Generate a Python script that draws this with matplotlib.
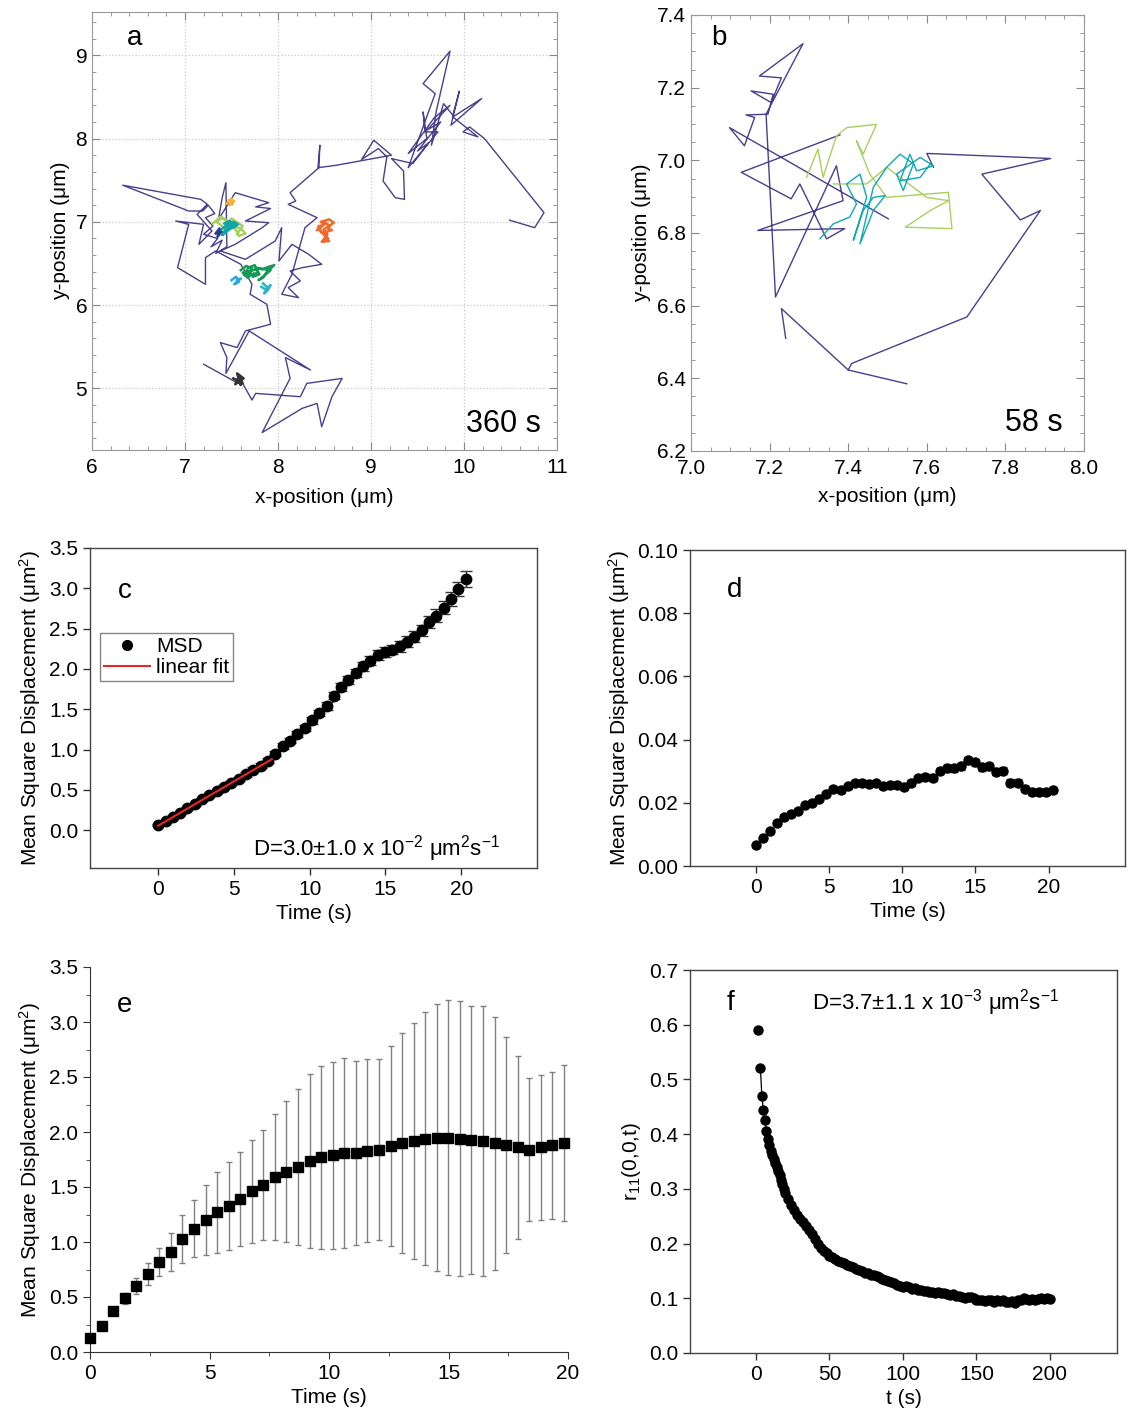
import numpy as np
import matplotlib
matplotlib.use("Agg")
import matplotlib.pyplot as plt
from matplotlib.ticker import MultipleLocator
from matplotlib.lines import Line2D

plt.rcParams['font.family'] = ['Liberation Sans', 'DejaVu Sans']
plt.rcParams['mathtext.fontset'] = 'custom'
plt.rcParams['mathtext.rm'] = 'Liberation Sans'
plt.rcParams['mathtext.it'] = 'Liberation Sans:italic'
plt.rcParams['mathtext.default'] = 'regular'

#%% data: panel a, full track (um) and the short confined tracks
a_track = [(7.20, 5.29), (7.54, 5.08), (7.60, 5.10), (7.72, 4.86), (7.76, 4.94), (8.24, 4.90),
           (8.31, 5.06), (8.69, 5.12), (8.58, 4.90), (8.47, 4.54), (8.42, 4.82), (8.26, 4.76),
           (7.83, 4.47), (8.13, 5.12), (8.08, 5.37), (8.35, 5.22), (7.69, 5.69), (7.44, 5.18),
           (7.45, 5.37), (7.38, 5.55), (7.56, 5.49), (7.65, 5.69), (7.92, 5.77), (7.88, 6.01),
           (7.70, 6.13), (7.72, 6.25), (7.60, 6.49), (7.33, 6.65), (7.22, 6.57), (7.22, 6.25),
           (6.92, 6.45), (7.04, 6.97), (6.90, 7.01), (7.20, 6.97), (7.15, 6.73), (7.29, 6.89),
           (7.13, 7.09), (7.24, 7.21), (7.17, 7.27), (6.33, 7.44), (7.04, 7.13), (7.19, 7.13),
           (7.25, 7.20), (7.32, 7.10), (7.22, 7.05), (7.30, 6.95), (7.20, 6.85), (7.35, 6.80),
           (7.28, 6.70), (7.40, 6.78), (7.33, 6.62), (7.45, 6.70),
           (7.44, 7.47), (7.40, 7.29), (7.36, 7.03), (7.54, 7.35), (7.90, 7.23), (7.76, 7.18),
           (7.92, 7.16), (7.65, 7.01), (7.90, 6.99), (7.83, 6.93), (7.54, 6.73), (7.38, 6.65),
           (7.65, 6.55), (7.97, 6.77), (8.04, 6.93), (8.01, 6.53), (8.15, 6.73), (8.33, 6.61),
           (8.47, 6.49), (8.26, 6.45), (8.13, 6.41), (8.24, 6.29), (8.11, 6.21), (8.22, 6.09),
           (8.04, 6.13), (8.15, 6.37), (8.29, 6.93), (8.42, 7.05), (8.11, 7.21), (8.19, 7.25),
           (8.13, 7.35), (8.44, 7.65), (8.45, 7.92), (8.43, 7.65), (8.63, 7.68), (9.22, 7.80),
           (9.03, 7.98), (8.90, 7.75), (9.08, 7.88), (9.17, 7.78), (9.13, 7.49), (9.26, 7.29),
           (9.36, 7.27), (9.35, 7.61), (9.22, 7.76), (9.45, 7.70), (9.62, 7.95), (9.50, 7.85),
           (9.75, 8.20), (9.60, 8.10), (9.85, 8.40), (9.68, 8.25), (9.40, 7.82),
           (9.60, 8.00), (9.56, 8.32), (9.58, 8.08),
           (9.72, 8.08), (9.40, 7.65), (9.69, 8.54), (9.56, 8.66), (9.85, 9.05), (9.70, 8.32),
           (9.65, 7.92), (9.78, 8.42), (9.88, 8.28), (9.95, 8.57), (9.86, 8.16), (10.19, 8.48),
           (9.88, 8.26), (10.15, 8.02), (9.99, 8.08), (10.06, 8.14), (10.22, 8.00), (10.86, 7.11),
           (10.76, 6.93), (10.49, 7.02)]
a_orange = [(8.42, 6.90), (8.50, 6.97), (8.46, 7.00), (8.55, 7.03), (8.60, 6.99), (8.52, 6.93),
            (8.58, 6.90), (8.48, 6.87), (8.43, 6.93), (8.51, 6.99), (8.56, 6.95), (8.49, 6.91),
            (8.53, 6.85), (8.50, 6.80), (8.55, 6.77), (8.47, 6.76), (8.52, 6.82), (8.49, 6.78),
            (8.54, 6.80), (8.46, 6.88), (8.44, 6.95)]
a_yellow = [(7.45, 7.22), (7.50, 7.28), (7.48, 7.20), (7.53, 7.25), (7.47, 7.26), (7.51, 7.21)]
a_lime = [(7.30, 6.98), (7.38, 7.06), (7.45, 7.02), (7.52, 6.95), (7.60, 6.92), (7.65, 6.86),
          (7.58, 6.83), (7.55, 6.90), (7.48, 6.97), (7.40, 7.05), (7.34, 7.00), (7.42, 6.93),
          (7.50, 7.04), (7.62, 6.95), (7.56, 6.85)]
a_teal = [(7.38, 6.90), (7.45, 6.96), (7.52, 7.00), (7.57, 6.97), (7.50, 6.93), (7.44, 6.88),
          (7.40, 6.84), (7.47, 6.91), (7.55, 6.95), (7.42, 6.98), (7.48, 7.01), (7.53, 6.96),
          (7.46, 6.94), (7.41, 6.87)]
a_navy = [(7.33, 6.86), (7.37, 6.92), (7.35, 6.82), (7.39, 6.88)]
a_green = [(7.60, 6.42), (7.66, 6.47), (7.72, 6.44), (7.70, 6.38), (7.64, 6.36), (7.68, 6.45),
           (7.75, 6.48), (7.78, 6.40), (7.73, 6.34), (7.80, 6.37), (7.76, 6.45), (7.83, 6.43),
           (7.90, 6.46), (7.96, 6.48), (7.88, 6.40), (7.84, 6.33), (7.79, 6.30), (7.86, 6.36),
           (7.92, 6.42), (7.80, 6.44), (7.70, 6.41), (7.62, 6.39), (7.67, 6.33), (7.74, 6.38)]
a_sky = [(7.50, 6.30), (7.55, 6.34), (7.58, 6.28), (7.53, 6.25), (7.60, 6.32), (7.56, 6.29)]
a_cyan = [(7.82, 6.22), (7.88, 6.18), (7.92, 6.24), (7.85, 6.14), (7.90, 6.20), (7.84, 6.26)]
a_black = [(7.52, 5.12), (7.62, 5.06), (7.58, 5.14), (7.54, 5.05), (7.63, 5.12), (7.56, 5.18),
           (7.60, 5.04), (7.57, 5.10)]

#%% data: panel b, 58 s track
b_purple1 = [(7.549, 6.385), (7.400, 6.423), (7.409, 6.441), (7.702, 6.569), (7.889, 6.862),
             (7.838, 6.836), (7.740, 6.962), (7.915, 7.005), (7.600, 7.019), (7.617, 6.981)]
b_purple2 = [(7.241, 6.510), (7.230, 6.592), (7.400, 6.423)]
b_purple3 = [(7.502, 6.839), (7.098, 7.090), (7.136, 7.040), (7.162, 7.118), (7.140, 7.125),
             (7.196, 7.127), (7.209, 7.182), (7.153, 7.191), (7.204, 7.159), (7.230, 7.227),
             (7.174, 7.232), (7.285, 7.321), (7.191, 7.127), (7.215, 6.624), (7.370, 6.985),
             (7.387, 6.889), (7.170, 6.807), (7.391, 6.812), (7.345, 6.784), (7.277, 6.935),
             (7.255, 6.894), (7.128, 6.967), (7.379, 7.070)]
b_teal = [(7.328, 6.784), (7.362, 6.825), (7.404, 6.844), (7.421, 6.880), (7.396, 6.935),
          (7.430, 6.962), (7.447, 6.898), (7.413, 6.780), (7.438, 6.862), (7.464, 6.898),
          (7.494, 6.903), (7.464, 6.862), (7.430, 6.770), (7.464, 6.926), (7.498, 6.981),
          (7.532, 7.017), (7.566, 6.990), (7.540, 6.917), (7.523, 6.962), (7.583, 7.008),
          (7.617, 6.985), (7.574, 6.971), (7.557, 7.017), (7.532, 6.944), (7.583, 6.953),
          (7.609, 6.990)]
b_lime = [(7.294, 6.953), (7.323, 7.031), (7.336, 6.953), (7.370, 7.067), (7.396, 7.090),
          (7.472, 7.099), (7.438, 7.017), (7.421, 7.054), (7.455, 6.962), (7.498, 6.898),
          (7.655, 6.912), (7.664, 6.812), (7.545, 6.816), (7.609, 6.862), (7.655, 6.889),
          (7.600, 6.898), (7.498, 6.981), (7.447, 6.935), (7.362, 6.935)]

#%% data: MSD curves
lag_step = 0.483  # s
c_msd = [0.06, 0.11, 0.16, 0.21, 0.27, 0.32, 0.38, 0.43, 0.48, 0.54,
         0.59, 0.64, 0.69, 0.75, 0.80, 0.86, 0.95, 1.04, 1.11, 1.19,
         1.27, 1.36, 1.45, 1.54, 1.67, 1.77, 1.86, 1.95, 2.03, 2.10,
         2.17, 2.21, 2.24, 2.28, 2.34, 2.40, 2.48, 2.58, 2.66, 2.76,
         2.87, 2.99, 3.12]
c_err = [0.01, 0.01, 0.01, 0.015, 0.015, 0.015, 0.02, 0.02, 0.02, 0.02,
         0.025, 0.025, 0.025, 0.03, 0.03, 0.03, 0.03, 0.035, 0.035, 0.035,
         0.04, 0.04, 0.04, 0.045, 0.045, 0.05, 0.05, 0.05, 0.055, 0.055,
         0.06, 0.06, 0.06, 0.065, 0.065, 0.07, 0.07, 0.075, 0.08, 0.08,
         0.085, 0.09, 0.1]
fit_slope = 0.11
fit_icpt = 0.055
fit_tmax = 7.5

d_msd = [0.0067, 0.0088, 0.011, 0.0136, 0.0155, 0.0166, 0.0173, 0.0194, 0.020, 0.0213,
         0.0227, 0.0245, 0.024, 0.0253, 0.0262, 0.0264, 0.026, 0.0262, 0.0253, 0.0255,
         0.0257, 0.0251, 0.0262, 0.0277, 0.0281, 0.028, 0.0301, 0.0309, 0.0309, 0.0315,
         0.0334, 0.0328, 0.0312, 0.0315, 0.0298, 0.0302, 0.0264, 0.0264, 0.0243, 0.0235,
         0.0235, 0.0235, 0.024]
d_err = [0.0004, 0.0004, 0.0005, 0.0005, 0.0005, 0.0006, 0.0006, 0.0006, 0.0006, 0.0007,
         0.0007, 0.0007, 0.0008, 0.0008, 0.0008, 0.0008, 0.0008, 0.0008, 0.0008, 0.0008,
         0.0009, 0.0009, 0.0009, 0.0009, 0.0009, 0.001, 0.001, 0.001, 0.001, 0.0011,
         0.0012, 0.0012, 0.0011, 0.0011, 0.0011, 0.001, 0.001, 0.001, 0.001, 0.0009,
         0.0009, 0.0009, 0.001]

e_step = 0.4836
e_msd = [0.13, 0.24, 0.37, 0.49, 0.60, 0.71, 0.82, 0.91, 1.03, 1.12,
         1.20, 1.27, 1.33, 1.39, 1.46, 1.52, 1.59, 1.64, 1.68, 1.74,
         1.77, 1.79, 1.81, 1.81, 1.83, 1.84, 1.87, 1.90, 1.92, 1.94,
         1.95, 1.95, 1.94, 1.93, 1.92, 1.90, 1.88, 1.86, 1.84, 1.86,
         1.88, 1.90]
e_err = [0.02, 0.03, 0.03, 0.05, 0.07, 0.10, 0.13, 0.17, 0.22, 0.26,
         0.32, 0.37, 0.40, 0.43, 0.47, 0.50, 0.57, 0.64, 0.71, 0.79,
         0.83, 0.85, 0.86, 0.84, 0.83, 0.82, 0.91, 1.00, 1.07, 1.15,
         1.21, 1.25, 1.25, 1.22, 1.23, 1.15, 0.98, 0.83, 0.65, 0.66,
         0.67, 0.71]

#%% data: panel f, autocorrelation r11(0,0,t)
f_t_early = [1.6, 3, 4, 5, 6, 7, 8, 9, 10, 11, 12, 13, 14, 15, 16, 17, 18, 19, 20]
f_r_early = [0.59, 0.52, 0.47, 0.445, 0.425, 0.405, 0.392, 0.38, 0.37, 0.362,
             0.355, 0.347, 0.34, 0.333, 0.325, 0.317, 0.308, 0.300, 0.293]
f_r_late = [0.281, 0.270, 0.262, 0.252, 0.245, 0.240, 0.232, 0.224, 0.217, 0.209,
            0.200, 0.192, 0.186, 0.182, 0.178, 0.175, 0.172, 0.169, 0.166, 0.164,
            0.161, 0.159, 0.157, 0.154, 0.151, 0.150, 0.147, 0.146, 0.143, 0.142,
            0.141, 0.139, 0.136, 0.134, 0.132, 0.130, 0.128, 0.124, 0.123, 0.121,
            0.122, 0.120, 0.117, 0.118, 0.116, 0.115, 0.113, 0.114, 0.112, 0.111,
            0.110, 0.111, 0.109, 0.110, 0.108, 0.106, 0.107, 0.104, 0.105, 0.103,
            0.101, 0.103, 0.102, 0.100, 0.097, 0.096, 0.097, 0.095, 0.097, 0.096,
            0.094, 0.097, 0.095, 0.096, 0.094, 0.093, 0.095, 0.092, 0.096, 0.097,
            0.101, 0.098, 0.096, 0.098, 0.097, 0.099, 0.101, 0.098, 0.100, 0.098]
f_t_late = 22 + 2 * np.arange(len(f_r_late))

#%% figure
W, H = 1129, 1416
fig = plt.figure(figsize=(W / 100, H / 100), dpi=100)


def box(l, t, r, b):
    return [l / W, 1 - b / H, (r - l) / W, (b - t) / H]


FS = 15
purple = '#4a3f8c'


def xy(pts):
    p = np.array(pts)
    return p[:, 0], p[:, 1]


# a
ax = fig.add_axes(box(92, 12, 557, 450))
x, y = xy(a_track)
ax.plot(x, y, color=purple, lw=1.0)
for pts, col in [(a_orange, '#f26a2a'), (a_yellow, '#f5b335'), (a_lime, '#a8d060'),
                 (a_teal, '#10a5a8'), (a_navy, '#2b3c8f'), (a_green, '#139a55'),
                 (a_sky, '#2aa6e0'), (a_cyan, '#1fb8c8'), (a_black, '#333333')]:
    x, y = xy(pts)
    ax.plot(x, y, color=col, lw=1.8)
ax.set_xlim(6, 11)
ax.set_ylim(4.26, 9.52)
ax.xaxis.set_major_locator(MultipleLocator(1))
ax.yaxis.set_major_locator(MultipleLocator(1))
ax.xaxis.set_minor_locator(MultipleLocator(0.2))
ax.yaxis.set_minor_locator(MultipleLocator(0.2))
ax.grid(True, which='major', color='#c8c8c8', ls=':', lw=0.9)
ax.tick_params(which='both', direction='in', top=True, right=True, labelsize=FS, color='#888888')
ax.tick_params(which='major', length=6)
ax.tick_params(which='minor', length=3)
ax.tick_params(axis='x', pad=6)
for s in ax.spines.values():
    s.set_color('#999999')
ax.set_xlabel('x-position (μm)', fontsize=FS, labelpad=8)
ax.set_ylabel('y-position (μm)', fontsize=FS)
ax.text(0.092, 0.94, 'a', transform=ax.transAxes, fontsize=20, ha='center', va='center')
ax.text(0.965, 0.025, '360 s', transform=ax.transAxes, fontsize=22, ha='right', va='bottom')

# b
ax = fig.add_axes(box(691, 15, 1084, 451))
for pts in (b_purple1, b_purple2, b_purple3):
    x, y = xy(pts)
    ax.plot(x, y, color=purple, lw=1.0)
x, y = xy(b_lime)
ax.plot(x, y, color='#a8d060', lw=1.0)
x, y = xy(b_teal)
ax.plot(x, y, color='#10a8b4', lw=1.0)
ax.set_xlim(7.0, 8.0)
ax.set_ylim(6.2, 7.4)
ax.xaxis.set_major_locator(MultipleLocator(0.2))
ax.yaxis.set_major_locator(MultipleLocator(0.2))
ax.xaxis.set_minor_locator(MultipleLocator(0.05))
ax.yaxis.set_minor_locator(MultipleLocator(0.05))
ax.xaxis.set_major_formatter('{x:.1f}')
ax.yaxis.set_major_formatter('{x:.1f}')
ax.tick_params(which='both', direction='in', top=True, right=True, labelsize=FS, color='#888888')
ax.tick_params(which='major', length=6)
ax.tick_params(which='minor', length=3)
ax.tick_params(axis='x', pad=6)
for s in ax.spines.values():
    s.set_color('#999999')
ax.set_xlabel('x-position (μm)', fontsize=FS, labelpad=6)
ax.set_ylabel('y-position (μm)', fontsize=FS)
ax.text(0.07, 0.947, 'b', transform=ax.transAxes, fontsize=20, ha='center', va='center')
ax.text(0.945, 0.03, '58 s', transform=ax.transAxes, fontsize=22, ha='right', va='bottom')


def sigma_style(ax):
    ax.tick_params(direction='out', top=False, right=False, length=5, width=1,
                   labelsize=FS, color='#333333')
    for s in ax.spines.values():
        s.set_color('#444444')
        s.set_linewidth(1.0)


msd_label = 'Mean Square Displacement (μm$^2$)'

# c
ax = fig.add_axes(box(90, 548, 537, 868))
tc = lag_step * np.arange(len(c_msd))
ax.errorbar(tc, c_msd, yerr=c_err, fmt='o', color='black', ms=7.5, capsize=4,
            elinewidth=1, capthick=1, ecolor='#333333', zorder=2)
tfit = np.array([0, fit_tmax])
ax.plot(tfit, fit_icpt + fit_slope * tfit, color='#e8262a', lw=1.5, zorder=3)
ax.set_xlim(-4.5, 25)
ax.set_ylim(-0.47, 3.5)
ax.set_xticks([0, 5, 10, 15, 20])
ax.set_yticks(np.arange(0, 3.51, 0.5))
ax.yaxis.set_major_formatter('{x:.1f}')
sigma_style(ax)
ax.set_xlabel('Time (s)', fontsize=FS)
ax.set_ylabel(msd_label, fontsize=FS)
ax.text(0.078, 0.865, 'c', transform=ax.transAxes, fontsize=20, ha='center', va='center')
ax.text(0.64, 0.06, 'D=3.0±1.0 x 10$^{-2}$ μm$^2$s$^{-1}$', transform=ax.transAxes,
        fontsize=16, ha='center', va='center')
handles = [Line2D([], [], marker='o', color='black', ls='none', ms=7),
           Line2D([], [], color='#e8262a', lw=1.5)]
leg = ax.legend(handles, ['MSD', 'linear fit'], loc='upper left', bbox_to_anchor=(0.022, 0.735),
                borderaxespad=0, fancybox=False, edgecolor='#666666', fontsize=FS,
                handlelength=2.2, handletextpad=0.3, borderpad=0.2, labelspacing=0.1)
leg.get_frame().set_linewidth(1.0)

# d
ax = fig.add_axes(box(690, 550, 1125, 866))
td = lag_step * np.arange(len(d_msd))
ax.errorbar(td, d_msd, yerr=d_err, fmt='o', color='black', ms=6.5, capsize=3,
            elinewidth=1, capthick=1, ecolor='#333333')
ax.set_xlim(-4.47, 25.2)
ax.set_ylim(0, 0.10)
ax.set_xticks([0, 5, 10, 15, 20])
ax.set_yticks(np.arange(0, 0.101, 0.02))
ax.yaxis.set_major_formatter('{x:.2f}')
sigma_style(ax)
ax.set_xlabel('Time (s)', fontsize=FS)
ax.set_ylabel(msd_label, fontsize=FS)
ax.text(0.103, 0.873, 'd', transform=ax.transAxes, fontsize=20, ha='center', va='center')

# e
ax = fig.add_axes(box(90, 967, 568, 1352))
te = e_step * np.arange(len(e_msd))
ax.errorbar(te, e_msd, yerr=e_err, fmt='s', color='black', ms=6.5, capsize=2.5,
            elinewidth=1, capthick=1, ecolor='#808080', clip_on=False, zorder=3)
ax.set_xlim(0, 20)
ax.set_ylim(0, 3.5)
ax.set_xticks([0, 5, 10, 15, 20])
ax.set_yticks(np.arange(0, 3.51, 0.5))
ax.yaxis.set_minor_locator(MultipleLocator(0.25))
ax.xaxis.set_minor_locator(MultipleLocator(2.5))
ax.yaxis.set_major_formatter('{x:.1f}')
ax.spines['top'].set_visible(False)
ax.spines['right'].set_visible(False)
ax.tick_params(which='both', direction='out', labelsize=FS, color='#333333')
ax.tick_params(which='major', length=5)
ax.tick_params(which='minor', length=3)
for s in ax.spines.values():
    s.set_color('#333333')
ax.set_xlabel('Time (s)', fontsize=FS)
ax.set_ylabel(msd_label, fontsize=FS)
ax.text(0.073, 0.90, 'e', transform=ax.transAxes, fontsize=20, ha='center', va='center')

# f
ax = fig.add_axes(box(690, 970, 1117, 1353))
tf = np.concatenate([f_t_early, f_t_late])
rf = np.concatenate([f_r_early, f_r_late])
ax.plot(tf[1:], rf[1:], color='black', lw=0.9)
ax.plot(tf, rf, 'o', color='black', ms=6.5)
ax.set_xlim(-44.9, 245.6)
ax.set_ylim(0, 0.7)
ax.set_xticks([0, 50, 100, 150, 200])
ax.set_yticks(np.arange(0, 0.71, 0.1))
ax.yaxis.set_major_formatter('{x:.1f}')
sigma_style(ax)
ax.set_xlabel('t (s)', fontsize=FS)
ax.set_ylabel('r$_{11}$(0,0,t)', fontsize=FS)
ax.text(0.096, 0.914, 'f', transform=ax.transAxes, fontsize=20, ha='center', va='center')
ax.text(0.574, 0.914, 'D=3.7±1.1 x 10$^{-3}$ μm$^2$s$^{-1}$', transform=ax.transAxes,
        fontsize=16, ha='center', va='center')

fig.savefig('out.png', dpi=100)
